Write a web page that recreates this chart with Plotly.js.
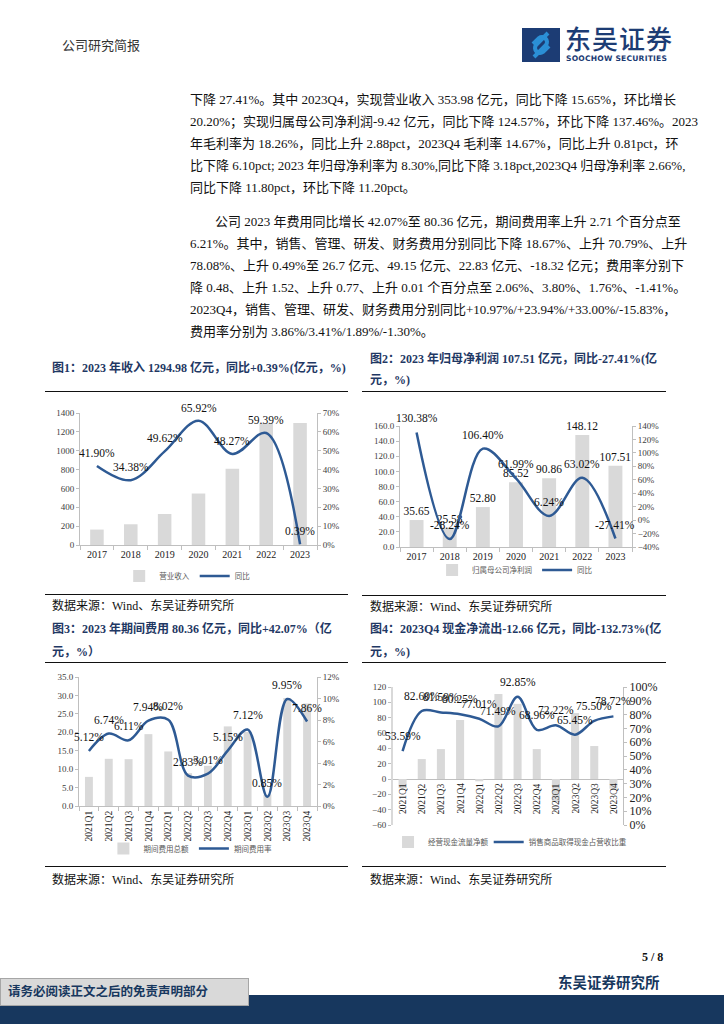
<!DOCTYPE html>
<html><head><meta charset="utf-8">
<script src="https://cdn.plot.ly/plotly-3.0.1.min.js"></script>
<style>
html,body{margin:0;padding:0;background:#fff;}
#page{position:relative;width:724px;height:1024px;overflow:hidden;background:#fff;font-family:"Liberation Serif","Noto Sans CJK SC",serif;color:#111;}
.ln{position:absolute;font-size:13px;line-height:18px;white-space:nowrap;}
.j{text-align:justify;text-align-last:justify;}
.ttl{position:absolute;font-size:12px;line-height:16px;font-weight:bold;color:#1F3864;white-space:nowrap;font-family:"Liberation Serif","Noto Sans CJK SC",serif;}
.rule{position:absolute;height:0;border-top:1.6px solid #111;}
.src{position:absolute;font-size:12px;line-height:16px;white-space:nowrap;}
.ch{position:absolute;}
</style></head>
<body><div id="page">
<div class="ln" style="left:62px;top:36px;font-size:13px;color:#333;font-family:'Noto Sans CJK SC';">公司研究简报</div>
<svg style="position:absolute;left:522px;top:28px" width="38" height="34" viewBox="0 0 38 34">
<rect x="0" y="0" width="38" height="34" fill="#1C3C74"/>
<path d="M26 5 L14 17 A5 5 0 0 0 21 24 L27 18" stroke="#2B8FD6" stroke-width="4" fill="none"/>
<path d="M12 29 L24 17 A5 5 0 0 0 17 10 L11 16" stroke="#2B8FD6" stroke-width="4" fill="none"/>
</svg>
<div style="position:absolute;left:565px;top:24px;font-family:'Noto Sans CJK SC';font-size:26px;line-height:27px;color:#1C3C74;font-weight:500;letter-spacing:1px;">东吴证券</div>
<div style="position:absolute;left:566px;top:54px;font-family:'DejaVu Sans';font-size:7.6px;line-height:10px;color:#1C3C74;font-weight:bold;letter-spacing:0.2px;">SOOCHOW SECURITIES</div>

<div class="ln j" style="left:190px;width:482px;top:91px;">下降 27.41%。其中 2023Q4，实现营业收入 353.98 亿元，同比下降 15.65%，环比增长</div>
<div class="ln j" style="left:190px;width:482px;top:113px;">20.20%；实现归属母公司净利润-9.42 亿元，同比下降 124.57%，环比下降 137.46%。2023</div>
<div class="ln j" style="left:190px;width:482px;top:135px;">年毛利率为 18.26%，同比上升 2.88pct，2023Q4 毛利率 14.67%，同比上升 0.81pct，环</div>
<div class="ln j" style="left:190px;width:482px;top:157px;">比下降 6.10pct; 2023 年归母净利率为 8.30%,同比下降 3.18pct,2023Q4 归母净利率 2.66%,</div>
<div class="ln" style="left:190px;top:179px;">同比下降 11.80pct，环比下降 11.20pct。</div>

<div class="ln j" style="left:215px;width:457px;top:213px;">公司 2023 年费用同比增长 42.07%至 80.36 亿元，期间费用率上升 2.71 个百分点至</div>
<div class="ln j" style="left:190px;width:482px;top:235px;">6.21%。其中，销售、管理、研发、财务费用分别同比下降 18.67%、上升 70.79%、上升</div>
<div class="ln j" style="left:190px;width:482px;top:257px;">78.08%、上升 0.49%至 26.7 亿元、49.15 亿元、22.83 亿元、-18.32 亿元；费用率分别下</div>
<div class="ln j" style="left:190px;width:482px;top:279px;">降 0.48、上升 1.52、上升 0.77、上升 0.01 个百分点至 2.06%、3.80%、1.76%、-1.41%。</div>
<div class="ln j" style="left:190px;width:482px;top:301px;">2023Q4，销售、管理、研发、财务费用分别同比+10.97%/+23.94%/+33.00%/-15.83%，</div>
<div class="ln" style="left:190px;top:323px;">费用率分别为 3.86%/3.41%/1.89%/-1.30%。</div>

<div class="ttl" style="left:52px;top:360px;">图1：2023 年收入 1294.98 亿元，同比+0.39%(亿元，%)</div>
<div class="rule" style="left:45px;width:303px;top:391px;"></div>
<div class="ttl" style="left:370px;top:351px;">图2：2023 年归母净利润 107.51 亿元，同比-27.41%(亿</div>
<div class="ttl" style="left:370px;top:372px;">元，%)</div>
<div class="rule" style="left:362px;width:304px;top:391px;"></div>
<div id="c1" class="ch" style="left:40px;top:398px;width:320px;height:195px;"></div>
<div id="c2" class="ch" style="left:360px;top:405px;width:330px;height:188px;"></div>
<div class="rule" style="left:45px;width:303px;top:594px;"></div>
<div class="rule" style="left:362px;width:304px;top:595px;"></div>
<div class="src" style="left:52px;top:598px;">数据来源：Wind、东吴证券研究所</div>
<div class="src" style="left:370px;top:599px;">数据来源：Wind、东吴证券研究所</div>

<div class="ttl" style="left:52px;top:621px;">图3：2023 年期间费用 80.36 亿元，同比+42.07%（亿</div>
<div class="ttl" style="left:52px;top:644px;">元，%）</div>
<div class="rule" style="left:45px;width:303px;top:662px;"></div>
<div class="ttl" style="left:370px;top:621px;">图4：2023Q4 现金净流出-12.66 亿元，同比-132.73%(亿</div>
<div class="ttl" style="left:370px;top:644px;">元，%)</div>
<div class="rule" style="left:362px;width:304px;top:662px;"></div>
<div id="c3" class="ch" style="left:40px;top:665px;width:320px;height:197px;"></div>
<div id="c4" class="ch" style="left:360px;top:665px;width:330px;height:197px;"></div>
<div class="rule" style="left:45px;width:303px;top:866px;"></div>
<div class="rule" style="left:362px;width:304px;top:866px;"></div>
<div class="src" style="left:52px;top:872px;">数据来源：Wind、东吴证券研究所</div>
<div class="src" style="left:370px;top:872px;">数据来源：Wind、东吴证券研究所</div>

<div style="position:absolute;left:0;top:995px;width:724px;height:29px;background:#17375E;"></div>
<div style="position:absolute;left:0;top:978px;width:247px;height:26px;background:#D9D9D9;border:1px solid #A6A6A6;"></div>
<div style="position:absolute;left:8px;top:982px;font-family:'Noto Sans CJK SC';font-weight:bold;font-size:12.5px;line-height:18px;color:#17375E;white-space:nowrap;">请务必阅读正文之后的免责声明部分</div>
<div style="position:absolute;left:642px;top:950px;font-family:'Liberation Serif';font-weight:bold;font-size:12px;line-height:14px;color:#111;">5 / 8</div>
<div style="position:absolute;left:558px;top:973px;font-family:'Noto Sans CJK SC';font-weight:bold;font-size:14.5px;line-height:18px;color:#17375E;white-space:nowrap;">东吴证券研究所</div>
</div>
<script>
// ---------- data ----------
const years = ['2017','2018','2019','2020','2021','2022','2023'];
const revenue = [163.6, 219.9, 329.0, 545.9, 809.4, 1290.0, 1294.98];
const revenueYoY = [41.90, 34.38, 49.62, 65.92, 48.27, 59.39, 0.39];

const netProfit = [35.65, 25.58, 52.80, 85.52, 90.86, 148.12, 107.51];
const netProfitYoY = [130.38, -28.24, 106.40, 61.99, 6.24, 63.02, -27.41];

const quarters = ['2021Q1','2021Q2','2021Q3','2021Q4','2022Q1','2022Q2','2022Q3','2022Q4','2023Q1','2023Q2','2023Q3','2023Q4'];
const expenseTotal = [7.9, 12.8, 12.7, 19.5, 14.8, 8.9, 10.9, 21.6, 20.1, 3.1, 29.3, 27.8];
const expenseRate = [5.12, 6.74, 6.11, 7.94, 8.02, 2.83, 3.01, 5.15, 7.12, 0.85, 9.95, 7.86];

const operatingCash = [-12, 26, 39, 77, -3, 111, 98, 39, -30, 86, 43, -12.66];
const cashToRevenue = [53.59, 82.60, 81.59, 80.25, 77.01, 71.49, 92.85, 68.96, 72.22, 65.45, 75.50, 78.72];

// ---------- styles ----------
const SERIF = '"Liberation Serif","Times New Roman",serif';
const CJK = '"Noto Sans CJK SC",sans-serif';
const BLUE = '#2E5A94';
const GRAY = '#D9D9D9';
const pct = v => v.toFixed(2) + '%';
const LEGFONT = {family:CJK, size:7.5, color:'#595959'};

function ax(extra){
  return Object.assign({showline:true, linecolor:'#BFBFBF', linewidth:1, ticks:'outside', ticklen:3,
    tickcolor:'#BFBFBF', showgrid:false, zeroline:false, fixedrange:true, automargin:false,
    tickfont:{family:SERIF, size:9, color:'#404040'}}, extra);
}
function layout(w,h,m,legX,legY,extra){
  m.autoexpand = false;
  return Object.assign({width:w, height:h, margin:m, paper_bgcolor:'rgba(0,0,0,0)', plot_bgcolor:'rgba(0,0,0,0)',
    showlegend:true,
    legend:{orientation:'h', xref:'container', x:legX, xanchor:'center', y:legY, yanchor:'middle',
      font:LEGFONT, bgcolor:'rgba(0,0,0,0)', itemwidth:30},
    font:{family:SERIF}}, extra);
}
// labels placed by category index so numeric-looking names are not misread
function lineLabels(ys, shift){
  return ys.map((v,i) => ({x:i, y:v, xref:'x', yref:'y2', text:pct(v), showarrow:false,
    yanchor:'middle', xanchor:'center', yshift:shift, font:{family:SERIF, size:11.5, color:'#111'}}));
}
const cfg = {staticPlot:true, displayModeBar:false};

// ---------- chart 1 ----------
Plotly.newPlot('c1', [
  {type:'bar', x:years, y:revenue, name:'营业收入', marker:{color:GRAY}, width:0.4},
  {type:'scatter', x:years, y:revenueYoY, yaxis:'y2', name:'同比', mode:'lines',
   line:{color:BLUE, width:2.5, shape:'spline', smoothing:1}}
], layout(320,195,{l:40,r:43,t:15,b:48}, 0.46, -0.235, {
  xaxis: ax({type:'category', range:[-0.5, years.length-0.5], tickson:'boundaries', ticklen:4, tickfont:{family:SERIF,size:10,color:'#222'}}),
  yaxis: ax({range:[0,1400], dtick:200}),
  yaxis2: ax({range:[0,70], dtick:10, ticksuffix:'%', overlaying:'y', side:'right'}),
  annotations: lineLabels(revenueYoY, 13)
}), cfg);

// ---------- chart 2 ----------
Plotly.newPlot('c2', [
  {type:'bar', x:years, y:netProfit, name:'归属母公司净利润', marker:{color:GRAY}, width:0.42,
   text:netProfit.map(v=>v.toFixed(2)), textposition:'outside', constraintext:'none', cliponaxis:false,
   textfont:{family:SERIF, size:11.5, color:'#111'}},
  {type:'scatter', x:years, y:netProfitYoY, yaxis:'y2', name:'同比', mode:'lines',
   line:{color:BLUE, width:2.5, shape:'spline', smoothing:1}}
], layout(330,188,{l:40,r:58,t:21,b:46}, 0.47, -0.19, {
  xaxis: ax({type:'category', range:[-0.5, years.length-0.5], tickson:'boundaries', ticklen:4, tickfont:{family:SERIF,size:10,color:'#222'}}),
  yaxis: ax({range:[0,160], dtick:20, tickformat:'.1f'}),
  yaxis2: ax({range:[-40,140], dtick:20, ticksuffix:'%', overlaying:'y', side:'right'}),
  annotations: lineLabels(netProfitYoY, 14)
}), cfg);

// ---------- chart 3 ----------
Plotly.newPlot('c3', [
  {type:'bar', x:quarters, y:expenseTotal, name:'期间费用总额', marker:{color:GRAY}, width:0.4},
  {type:'scatter', x:quarters, y:expenseRate, yaxis:'y2', name:'期间费用率', mode:'lines',
   line:{color:BLUE, width:2.5, shape:'spline', smoothing:1}}
], layout(320,197,{l:39,r:43,t:12,b:56}, 0.47, -0.33, {
  xaxis: ax({type:'category', range:[-0.5, quarters.length-0.5], tickson:'boundaries', ticklen:4, tickangle:-90, tickfont:{family:SERIF,size:9.5,color:'#222'}}),
  yaxis: ax({range:[0,35], dtick:5, tickformat:'.1f'}),
  yaxis2: ax({range:[0,12], dtick:2, ticksuffix:'%', overlaying:'y', side:'right'}),
  annotations: lineLabels(expenseRate, 14)
}), cfg);

// ---------- chart 4 ----------
const qAnn = quarters.map((q,i) => ({x:i, y:0, xref:'x', yref:'y', text:q, showarrow:false, textangle:-90,
  yanchor:'top', xanchor:'center', yshift:-2, font:{family:SERIF, size:9.5, color:'#222'}}));
const l4 = layout(330,197,{l:33,r:67,t:22,b:37}, 0.085, -0.123, {
  xaxis: ax({type:'category', range:[-0.5, quarters.length-0.5], showline:false, ticks:'', showticklabels:false}),
  yaxis: ax({range:[-60,120], dtick:20, zeroline:true, zerolinecolor:'#BFBFBF', zerolinewidth:1, linecolor:'#D9D9D9', linewidth:2}),
  yaxis2: ax({range:[0,100], dtick:10, ticksuffix:'%', overlaying:'y', side:'right', tickfont:{family:SERIF,size:12,color:'#222'}}),
  annotations: qAnn.concat(lineLabels(cashToRevenue, 15))
});
l4.legend.xanchor = 'left';
l4.legend2 = {orientation:'h', xref:'container', x:0.39, xanchor:'left', y:-0.123, yanchor:'middle',
  font:LEGFONT, bgcolor:'rgba(0,0,0,0)', itemwidth:30};
Plotly.newPlot('c4', [
  {type:'bar', x:quarters, y:operatingCash, name:'经营现金流量净额', marker:{color:GRAY}, width:0.42, legend:'legend'},
  {type:'scatter', x:quarters, y:cashToRevenue, yaxis:'y2', name:'销售商品取得现金占营收比重', mode:'lines', legend:'legend2',
   line:{color:BLUE, width:2.5, shape:'spline', smoothing:1}}
], l4, cfg);
</script>
</body></html>
